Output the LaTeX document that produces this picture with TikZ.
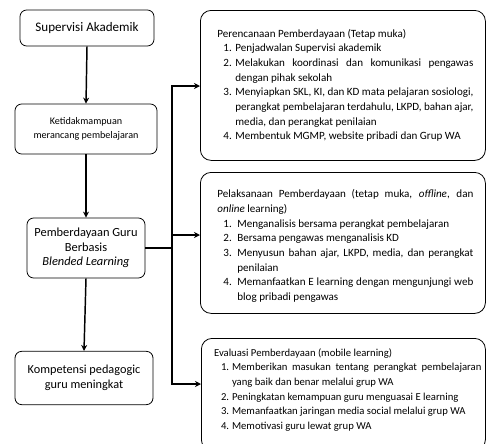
\documentclass[tikz,border=0pt]{standalone}
\usepackage{fontspec}
\setmainfont{Carlito}
\usetikzlibrary{arrows.meta}
\newcommand{\itm}[4]{\par\hangindent=#3\hangafter=1\noindent\hspace*{#1}\makebox[#2][l]{#4}\ignorespaces}
\begin{document}
\begin{tikzpicture}[x=0.75pt,y=-0.75pt,
  leftbox/.style={draw, line width=0.6pt, rounded corners=5pt, align=center, inner sep=0pt,
    font=\fontsize{8}{10.5}\selectfont},
  rightbox/.style={draw, line width=0.6pt, rounded corners=8pt, anchor=north west, inner sep=0pt,
    font=\fontsize{8.3}{11}\selectfont},
  arr/.style={line width=1.1pt, -{Stealth[length=4.5pt,width=4.5pt]}},
  conn/.style={line width=1.1pt}]
\clip (0,0) rectangle (487,444);
\useasboundingbox (0,0) rectangle (487,444);
% left column
\node[leftbox, minimum width=100.5pt, minimum height=27pt, font=\fontsize{9.8}{11}\selectfont] (b1) at (87,28) {Supervisi Akademik};
\node[leftbox, minimum width=106.5pt, minimum height=37.5pt, font=\fontsize{7.6}{11}\selectfont] (b2) at (86,129) {Ketidakmampuan\\merancang pembelajaran};
\node[leftbox, minimum width=88.5pt, minimum height=45pt, font=\fontsize{9.3}{11}\selectfont] (b3) at (86,248) {Pemberdayaan Guru\\Berbasis\\\textit{Blended Learning}};
\node[leftbox, minimum width=103.5pt, minimum height=40pt, font=\fontsize{9.2}{11.2}\selectfont] (b4) at (84,378) {Kompetensi pedagogic\\guru meningkat};
% right column
\node[rightbox] (ra) at (200,10) {\begin{minipage}[t][112.5pt][t]{213.75pt}\hyphenpenalty=10000\vspace*{14pt}\leftskip=12.75pt\rightskip=9pt
\noindent Perencanaan Pemberdayaan (Tetap muka)
\itm{4.5pt}{9pt}{13.5pt}{1.} Penjadwalan Supervisi akademik
\itm{4.5pt}{9pt}{13.5pt}{2.} Melakukan koordinasi dan komunikasi pengawas\linebreak dengan pihak sekolah
\itm{4.5pt}{9pt}{13.5pt}{3.} Menyiapkan SKL, KI, dan KD mata pelajaran sosiologi,\linebreak perangkat pembelajaran terdahulu, LKPD, bahan ajar,\linebreak media, dan perangkat penilaian
\itm{4.5pt}{9pt}{13.5pt}{4.} Membentuk MGMP, website pribadi dan Grup WA
\end{minipage}};
\node[rightbox] (rb) at (200,172) {\begin{minipage}[t][105.75pt][t]{213.75pt}\hyphenpenalty=10000\vspace*{13pt}\leftskip=12.75pt\rightskip=9pt
\noindent Pelaksanaan Pemberdayaan (tetap muka, \textit{offline}, dan\linebreak \textit{online} learning)
\itm{4.5pt}{10.5pt}{15pt}{1.} Menganalisis bersama perangkat pembelajaran
\itm{4.5pt}{10.5pt}{15pt}{2.} Bersama pengawas menganalisis KD
\itm{4.5pt}{10.5pt}{15pt}{3.} Menyusun bahan ajar, LKPD, media, dan perangkat\linebreak penilaian
\itm{4.5pt}{10.5pt}{15pt}{4.} Memanfaatkan E learning dengan mengunjungi web\linebreak blog pribadi pengawas
\end{minipage}};
\node[rightbox, font=\fontsize{8}{11}\selectfont] (rc) at (201,338) {\begin{minipage}[t][84pt][t]{213pt}\hyphenpenalty=10000\vspace*{7.5pt}\leftskip=9.5pt\rightskip=3pt
\noindent Evaluasi Pemberdayaan (mobile learning)
\itm{5.25pt}{8.25pt}{13.5pt}{1.} Memberikan masukan tentang perangkat pembelajaran\linebreak yang baik dan benar melalui grup WA
\itm{5.25pt}{8.25pt}{13.5pt}{2.} Peningkatan kemampuan guru menguasai E learning
\itm{5.25pt}{8.25pt}{13.5pt}{3.} Memanfaatkan jaringan media social melalui grup WA
\itm{5.25pt}{8.25pt}{13.5pt}{4.} Memotivasi guru lewat grup WA
\end{minipage}};
% connectors
\draw[arr] (b1.south) -- (b2.north);
\draw[arr] (b2.south) -- (b3.north);
\draw[arr] (b3.south) -- (b4.north);
\coordinate (jA) at (172,86);
\coordinate (jM) at (172,248);
\coordinate (jB) at (172,235);
\coordinate (jC) at (172,384);
\draw[conn] (b3.east) -- (jM);
\draw[conn, line cap=rect] (jA) -- (jC);
\draw[arr] (jA) -- (jA -| ra.west);
\draw[arr] (jB) -- (jB -| rb.west);
\draw[arr] (jC) -- (jC -| rc.west);
\end{tikzpicture}
\end{document}
